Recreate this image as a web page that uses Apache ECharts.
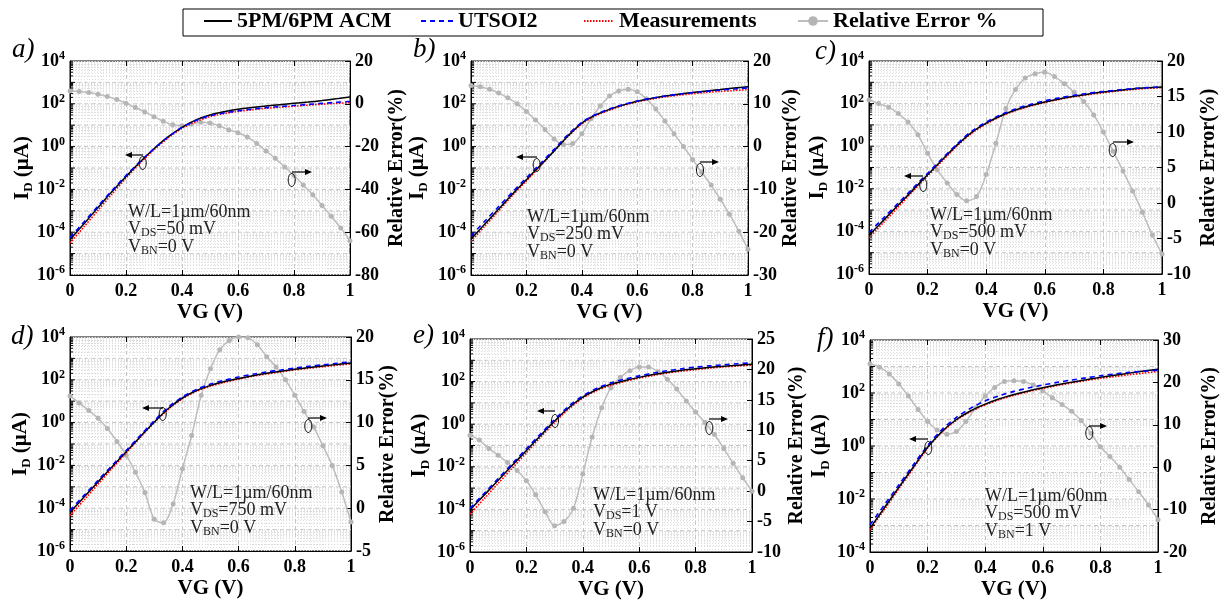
<!DOCTYPE html>
<html><head><meta charset="utf-8">
<script src="https://cdn.jsdelivr.net/npm/echarts@6/dist/echarts.min.js"></script>
<style>html,body{margin:0;padding:0;background:#fff}#c{width:1228px;height:606px}</style>
</head><body><div id="c"></div>
<script>
// ---------------- DATA ----------------
const vgId = [0, 0.05, 0.1, 0.15, 0.2, 0.25, 0.3, 0.35, 0.4, 0.45, 0.5, 0.55, 0.6, 0.65, 0.7, 0.75, 0.8, 0.85, 0.9, 0.95, 1];
const vgErr = [0, 0.033, 0.067, 0.1, 0.133, 0.167, 0.2, 0.233, 0.267, 0.3, 0.333, 0.367, 0.4, 0.433, 0.467, 0.5, 0.533, 0.567, 0.6, 0.633, 0.667, 0.7, 0.733, 0.767, 0.8, 0.833, 0.867, 0.9, 0.933, 0.967, 1];
const xTicks = [0, 0.2, 0.4, 0.6, 0.8, 1];
const logTickExp = [-6, -4, -2, 0, 2, 4];
const logTickExpF = [-4, -2, 0, 2, 4];

const acmA   = [4.47e-5, 2.51e-4, 1.41e-3, 7.94e-3, 3.98e-2, 0.191, 0.794, 2.82, 7.94, 17.8, 30.2, 42.7, 56.2, 67.6, 79.4, 91.2, 105, 120, 141, 170, 209];
const utsoiA = [5.62e-5, 3.02e-4, 1.66e-3, 8.91e-3, 4.47e-2, 0.2, 0.794, 2.82, 7.94, 16.6, 27.5, 37.2, 46.8, 56.2, 66.1, 74.1, 83.2, 93.3, 105, 117, 129];
const measA  = [3.16e-5, 1.78e-4, 1.05e-3, 6.03e-3, 3.31e-2, 0.166, 0.708, 2.51, 7.08, 14.8, 25.1, 34.7, 43.7, 52.5, 61.7, 69.2, 77.6, 87.1, 95.5, 105, 112];
const errA   = [6.0, 5.8, 5.3, 4.5, 3.4, 2.0, 0.3, -1.7, -3.8, -6.0, -8.2, -9.8, -10.3, -9.6, -8.6, -9.0, -10.3, -12.2, -13.5, -15.5, -18.5, -22.0, -25.5, -29.5, -33.5, -38.0, -42.5, -47.5, -52.5, -58.0, -64.0];

const acmB   = [4.79e-5, 2.4e-4, 1.2e-3, 6.03e-3, 2.82e-2, 0.132, 0.631, 3.16, 12.6, 30.2, 55.0, 89.1, 132, 178, 229, 282, 339, 398, 468, 550, 631];
const utsoiB = [6.76e-5, 3.31e-4, 1.58e-3, 7.59e-3, 3.47e-2, 0.158, 0.741, 3.63, 13.5, 31.6, 57.5, 93.3, 135, 182, 229, 282, 331, 380, 437, 490, 550];
const measB  = [3.8e-5, 1.91e-4, 1.0e-3, 5.25e-3, 2.51e-2, 0.12, 0.603, 2.95, 11.5, 27.5, 50.1, 83.2, 123, 166, 209, 251, 295, 339, 380, 417, 457];
const errB   = [14.3, 14.0, 13.4, 12.5, 11.4, 10.0, 8.2, 6.2, 4.0, 1.8, 0.5, 0.7, 3.0, 6.5, 9.5, 11.8, 13.0, 13.4, 12.8, 11.2, 8.8, 6.0, 3.0, 0.0, -3.0, -6.0, -9.0, -12.3, -15.8, -19.8, -24.0];

const acmC   = [6.61e-5, 3.39e-4, 1.74e-3, 8.91e-3, 4.57e-2, 0.229, 1.12, 4.37, 12.0, 26.9, 50.1, 81.3, 120, 166, 219, 282, 347, 417, 490, 550, 603];
const utsoiC = [8.91e-5, 4.37e-4, 2.14e-3, 1.07e-2, 5.37e-2, 0.263, 1.26, 5.01, 13.5, 30.2, 56.2, 91.2, 135, 186, 245, 309, 372, 437, 501, 562, 617];
const measC  = [5.01e-5, 2.63e-4, 1.41e-3, 7.59e-3, 3.98e-2, 0.204, 1.0, 3.98, 11.0, 25.1, 46.8, 75.9, 112, 158, 209, 263, 324, 389, 457, 513, 562];
const errC   = [14.5, 14.0, 13.5, 12.6, 11.4, 9.6, 7.0, 4.7, 2.8, 1.2, 0.3, 0.9, 4.0, 8.4, 13.3, 16.0, 17.6, 18.2, 18.4, 17.8, 16.8, 15.6, 14.3, 12.4, 10.0, 7.3, 4.5, 1.7, -1.3, -4.5, -7.2];

const acmD   = [6.46e-5, 3.31e-4, 1.7e-3, 8.71e-3, 4.37e-2, 0.219, 1.07, 4.57, 14.1, 31.6, 55.0, 83.2, 115, 155, 200, 251, 309, 372, 447, 525, 617];
const utsoiD = [7.94e-5, 3.98e-4, 2.0e-3, 1.0e-2, 5.01e-2, 0.251, 1.23, 5.25, 15.8, 35.5, 63.1, 95.5, 135, 182, 234, 288, 355, 427, 501, 589, 692];
const measD  = [4.57e-5, 2.4e-4, 1.32e-3, 7.24e-3, 3.8e-2, 0.2, 1.0, 4.17, 12.9, 28.8, 50.1, 75.9, 107, 145, 186, 234, 288, 347, 407, 479, 550];
const errD   = [13.1, 12.3, 11.4, 10.5, 9.3, 7.8, 6.2, 4.2, 1.8, -1.3, -1.7, 0.5, 4.6, 8.5, 13.2, 16.3, 18.5, 19.6, 20.0, 19.9, 19.1, 17.7, 16.5, 15.0, 13.2, 11.3, 9.5, 7.3, 5.0, 1.9, -1.6];

const acmE   = [9.33e-5, 4.68e-4, 2.34e-3, 1.17e-2, 5.89e-2, 0.295, 1.41, 5.89, 18.6, 42.7, 75.9, 112, 158, 214, 275, 339, 398, 468, 525, 589, 646];
const utsoiE = [1.12e-4, 5.62e-4, 2.82e-3, 1.41e-2, 7.08e-2, 0.347, 1.66, 6.92, 21.4, 49.0, 87.1, 132, 186, 251, 324, 398, 479, 550, 617, 692, 759];
const measE  = [6.03e-5, 3.16e-4, 1.66e-3, 8.71e-3, 4.57e-2, 0.24, 1.2, 5.13, 16.6, 38.0, 67.6, 102, 145, 195, 251, 309, 363, 427, 490, 537, 589];
const errE   = [9.2, 8.4, 7.0, 5.9, 4.7, 3.4, 1.7, -0.6, -3.4, -5.7, -5.0, -2.8, 2.8, 8.9, 13.7, 17.0, 18.7, 19.8, 20.4, 20.4, 19.6, 18.4, 16.8, 14.8, 13.0, 11.3, 9.3, 7.0, 4.6, 2.2, 0.0];

const acmF   = [7.94e-4, 4.68e-3, 2.75e-2, 0.158, 0.891, 3.55, 10.0, 21.4, 38.0, 60.3, 87.1, 120, 158, 204, 257, 316, 389, 468, 562, 676, 794];
const utsoiF = [1.07e-3, 6.03e-3, 3.39e-2, 0.191, 1.05, 4.17, 12.0, 26.9, 50.1, 79.4, 115, 155, 200, 251, 309, 372, 447, 525, 603, 661, 724];
const measF  = [6.92e-4, 3.98e-3, 2.4e-2, 0.141, 0.832, 3.31, 9.33, 20.0, 35.5, 56.2, 81.3, 112, 148, 191, 240, 295, 355, 417, 490, 562, 646];
const errF   = [24.4, 23.6, 22.0, 19.6, 16.8, 13.6, 10.8, 8.8, 7.8, 8.4, 10.8, 14.0, 16.8, 18.8, 20.2, 20.4, 20.2, 19.4, 18.0, 16.4, 14.8, 13.2, 11.0, 8.0, 4.8, 2.5, 0.0, -2.9, -5.8, -8.9, -12.4];

const panelLetters = ['a)', 'b)', 'c)', 'd)', 'e)', 'f)'];
const vdsText = ['50 mV', '250 mV', '500 mV', '750 mV', '1 V', '500 mV'];
const vbnText = ['0 V', '0 V', '0 V', '0 V', '0 V', '1 V'];
const errAxis = [[-80, 20, 20], [-30, 20, 10], [-10, 20, 5], [-5, 20, 5], [-10, 25, 5], [-20, 30, 10]];
const idAxisExp = [[-6, 4], [-6, 4], [-6, 4], [-6, 4], [-6, 4], [-4, 4]];
const seriesNames = ['5PM/6PM ACM', 'UTSOI2', 'Measurements', 'Relative Error %'];

const acmAll = [acmA, acmB, acmC, acmD, acmE, acmF];
const utsoiAll = [utsoiA, utsoiB, utsoiC, utsoiD, utsoiE, utsoiF];
const measAll = [measA, measB, measC, measD, measE, measF];
const errAll = [errA, errB, errC, errD, errE, errF];

// ---------------- LAYOUT ----------------
const grids = [
  {left: 70, top: 61, width: 280, height: 214},
  {left: 471, top: 61, width: 277, height: 214},
  {left: 869, top: 61, width: 293, height: 213},
  {left: 70, top: 337, width: 281, height: 214},
  {left: 470, top: 339, width: 282, height: 213},
  {left: 870, top: 340, width: 288, height: 212}
];
const leftGap = [35, 41, 39, 37, 38, 38];
const rightGap = [37, 32, 37, 27, 35, 42];
const letterPos = [[12, 50], [413, 50], [815, 52], [11, 337], [413, 336], [817, 339]];
const notePos = [[128, 212], [527, 217], [930, 215], [190, 493], [593, 495], [985, 496]];
const arrows = [
  [[142.7, 163, 155, 143, 127], [291.7, 180, 172, 292, 310]],
  [[536.7, 165, 157, 537, 518], [700, 170, 162, 700, 717]],
  [[923.3, 185, 176, 923, 906], [1112.7, 150, 142, 1113, 1132]],
  [[162.7, 414, 408, 163, 144], [308.3, 426, 418, 308, 325]],
  [[555, 421, 411, 555, 539], [709.3, 428, 419, 709, 726]],
  [[928.3, 448, 439, 928, 911], [1089.3, 433, 426, 1089, 1105]]
];

const FONT = 'Liberation Serif';
const tickLabel = {fontFamily: FONT, fontWeight: 'bold', fontSize: 18, color: '#000'};
const supRich = {
  base: {fontFamily: FONT, fontWeight: 'bold', fontSize: 18, fill: '#000', lineHeight: 22},
  sup: {fontFamily: FONT, fontWeight: 'bold', fontSize: 12, fill: '#000', verticalAlign: 'top', lineHeight: 22}
};

const option = {
  animation: false,
  backgroundColor: '#fff',
  grid: [], xAxis: [], yAxis: [], series: [], legend: [], graphic: []
};

grids.forEach((g, i) => {
  option.grid.push(Object.assign({show: true, borderColor: '#000', borderWidth: 1, backgroundColor: 'transparent'}, g));
  option.xAxis.push({
    type: 'value', gridIndex: i, min: xTicks[0], max: xTicks[xTicks.length - 1], interval: 0.2,
    position: 'bottom',
    name: 'VG (V)', nameLocation: 'middle', nameGap: 27,
    nameTextStyle: {fontFamily: FONT, fontWeight: 'bold', fontSize: 21, color: '#000'},
    axisLine: {show: true, onZero: false, lineStyle: {color: '#000', width: 1}},
    axisTick: {show: true, inside: true, length: 5, lineStyle: {color: '#000'}},
    minorTick: {show: false, splitNumber: 20},
    axisLabel: Object.assign({margin: 7}, tickLabel),
    splitLine: {show: true, lineStyle: {type: [4, 3], color: '#c6c6c6', width: 1}},
    minorSplitLine: {show: true, lineStyle: {type: [1, 2], color: '#dddddd', width: 1}}
  });
  option.xAxis.push({
    type: 'value', gridIndex: i, min: 0, max: 1, interval: 0.2, position: 'top',
    axisLine: {show: false, onZero: false}, axisLabel: {show: false}, splitLine: {show: false},
    axisTick: {show: true, inside: true, length: 5, lineStyle: {color: '#000'}}
  });
  const [mn, mx] = idAxisExp[i];
  option.yAxis.push({
    type: 'log', gridIndex: i, min: Math.pow(10, mn), max: Math.pow(10, mx), position: 'left',
    name: '{n|I}{sub|D}{n| (µA)}', nameLocation: 'middle', nameGap: leftGap[i], nameRotate: 90,
    nameTextStyle: {rich: {
      n: {fontFamily: FONT, fontWeight: 'bold', fontSize: 21, color: '#000', lineHeight: 24},
      sub: {fontFamily: FONT, fontWeight: 'bold', fontSize: 13, color: '#000', verticalAlign: 'bottom', lineHeight: 24}
    }},
    axisLine: {show: true, onZero: false, lineStyle: {color: '#000'}},
    axisLabel: {show: false}, axisTick: {show: false}, splitLine: {show: false}
  });
  const [emn, emx, est] = errAxis[i];
  option.yAxis.push({
    type: 'value', gridIndex: i, min: emn, max: emx, interval: est, position: 'right',
    name: 'Relative Error(%)', nameLocation: 'middle', nameGap: rightGap[i], nameRotate: 90,
    nameTextStyle: {fontFamily: FONT, fontWeight: 'bold', fontSize: 20, color: '#000'},
    axisLine: {show: true, onZero: false, lineStyle: {color: '#000'}},
    axisTick: {show: true, inside: true, length: 5, lineStyle: {color: '#000'}},
    axisLabel: Object.assign({margin: 5}, tickLabel),
    splitLine: {show: false}
  });

  const xi = 2 * i, yl = 2 * i, yr = 2 * i + 1;
  option.series.push({
    name: seriesNames[3], type: 'line', xAxisIndex: xi, yAxisIndex: yr, z: 2,
    data: vgErr.map((x, k) => [x, errAll[i][k]]),
    smooth: 0.3, symbol: 'circle', symbolSize: 5, showSymbol: true,
    lineStyle: {color: '#bdbdbd', width: 1.5}, itemStyle: {color: '#b5b5b5'}
  });
  option.series.push({
    name: seriesNames[2], type: 'line', xAxisIndex: xi, yAxisIndex: yl, z: 3,
    data: vgId.map((x, k) => [x, measAll[i][k]]),
    smooth: 0.3, symbol: 'none',
    lineStyle: {color: '#ff0000', width: 1.6, type: [1.5, 1.5]}, itemStyle: {color: '#ff0000'}
  });
  option.series.push({
    name: seriesNames[0], type: 'line', xAxisIndex: xi, yAxisIndex: yl, z: 3,
    data: vgId.map((x, k) => [x, acmAll[i][k]]),
    smooth: 0.3, symbol: 'none',
    lineStyle: {color: '#000000', width: 1.5}, itemStyle: {color: '#000000'}
  });
  option.series.push({
    name: seriesNames[1], type: 'line', xAxisIndex: xi, yAxisIndex: yl, z: 3,
    data: vgId.map((x, k) => [x, utsoiAll[i][k]]),
    smooth: 0.3, symbol: 'none',
    lineStyle: {color: '#0000ff', width: 1.6, type: [5, 4]}, itemStyle: {color: '#0000ff'}
  });

  option.graphic.push({type: 'text', x: letterPos[i][0], y: letterPos[i][1], z: 10,
    style: {text: panelLetters[i], fontFamily: FONT, fontStyle: 'italic', fontSize: 27, fill: '#000', verticalAlign: 'middle'}});
  const [nx, ny] = notePos[i];
  const noteRich = {
    n: {fontFamily: FONT, fontSize: 18, fill: '#222', lineHeight: 20},
    sub: {fontFamily: FONT, fontSize: 12, fill: '#222', verticalAlign: 'bottom', lineHeight: 20}
  };
  option.graphic.push({type: 'text', x: nx, y: ny, z: 10, style: {text: '{n|W/L=1µm/60nm}', rich: noteRich, verticalAlign: 'middle'}});
  option.graphic.push({type: 'text', x: nx, y: ny + 17, z: 10, style: {text: '{n|V}{sub|DS}{n|=' + vdsText[i] + '}', rich: noteRich, verticalAlign: 'middle'}});
  option.graphic.push({type: 'text', x: nx, y: ny + 35, z: 10, style: {text: '{n|V}{sub|BN}{n|=' + vbnText[i] + '}', rich: noteRich, verticalAlign: 'middle'}});
  arrows[i].forEach(a => {
    const [cx, cy, ay, x1, x2] = a;
    const dir = x2 > x1 ? 1 : -1;
    option.graphic.push({type: 'ellipse', z: 10, shape: {cx: cx, cy: cy, rx: 3.5, ry: 6.5}, style: {fill: 'none', stroke: '#000', lineWidth: 1}});
    option.graphic.push({type: 'line', z: 10, shape: {x1: x1, y1: ay, x2: x2, y2: ay}, style: {stroke: '#000', lineWidth: 1.2}});
    option.graphic.push({type: 'polygon', z: 10, shape: {points: [[x2 + dir * 2, ay], [x2 - dir * 5, ay - 3], [x2 - dir * 5, ay + 3]]}, style: {fill: '#000'}});
  });
});

option.graphic.push({type: 'rect', z: 0, shape: {x: 183, y: 9, width: 860, height: 27}, style: {fill: '#fff', stroke: '#000', lineWidth: 1}});
const legendLeft = [203, 420, 583, 797];
const legendW = [28, 32, 30, 30];
seriesNames.forEach((nm, k) => {
  const lg = {
    data: [nm], left: legendLeft[k], top: 10, padding: 0, itemWidth: legendW[k], itemHeight: 12,
    selectedMode: false, z: 5,
    textStyle: {fontFamily: FONT, fontWeight: 'bold', fontSize: 22, color: '#000'}
  };
  if (k < 3) lg.itemStyle = {color: 'rgba(0,0,0,0)', borderColor: 'rgba(0,0,0,0)', borderWidth: 0};
  option.legend.push(lg);
});

const chart = echarts.init(document.getElementById('c'), null, {renderer: 'canvas'});
chart.setOption(option);

// log-axis grid lines, ticks and labels placed through the log axis scale
const extra = [];
grids.forEach((g, i) => {
  const [mn, mx] = idAxisExp[i];
  const labels = i === 5 ? logTickExpF : logTickExp;
  const yi = 2 * i;
  const x0 = g.left, x1 = g.left + g.width;
  for (let e = mn; e <= mx; e++) {
    const v = Math.pow(10, e);
    const y = chart.convertToPixel({yAxisIndex: yi}, v);
    if (e > mn && e < mx) {
      extra.push({type: 'line', z: 0, silent: true, shape: {x1: x0, y1: y, x2: x1, y2: y}, style: {stroke: '#c4c4c4', lineWidth: 1, lineDash: [4, 3]}});
      extra.push({type: 'line', z: 1, silent: true, shape: {x1: x0, y1: y, x2: x0 + 5, y2: y}, style: {stroke: '#000', lineWidth: 1}});
    }
    if (labels.indexOf(e) >= 0) {
      extra.push({type: 'text', z: 5, silent: true, x: x0 - 5, y: y, style: {text: '{base|10}{sup|' + e + '}', rich: supRich, align: 'right', verticalAlign: 'middle'}});
    }
    if (e < mx) {
      for (let k = 2; k <= 9; k++) {
        const ym = chart.convertToPixel({yAxisIndex: yi}, k * v);
        extra.push({type: 'line', z: 0, silent: true, shape: {x1: x0, y1: ym, x2: x1, y2: ym}, style: {stroke: '#d8d8d8', lineWidth: 1, lineDash: [1, 2]}});
        extra.push({type: 'line', z: 1, silent: true, shape: {x1: x0, y1: ym, x2: x0 + 3, y2: ym}, style: {stroke: '#000', lineWidth: 1}});
      }
    }
  }
});
option.graphic = option.graphic.concat(extra);
chart.setOption(option, true);
</script>
</body></html>
